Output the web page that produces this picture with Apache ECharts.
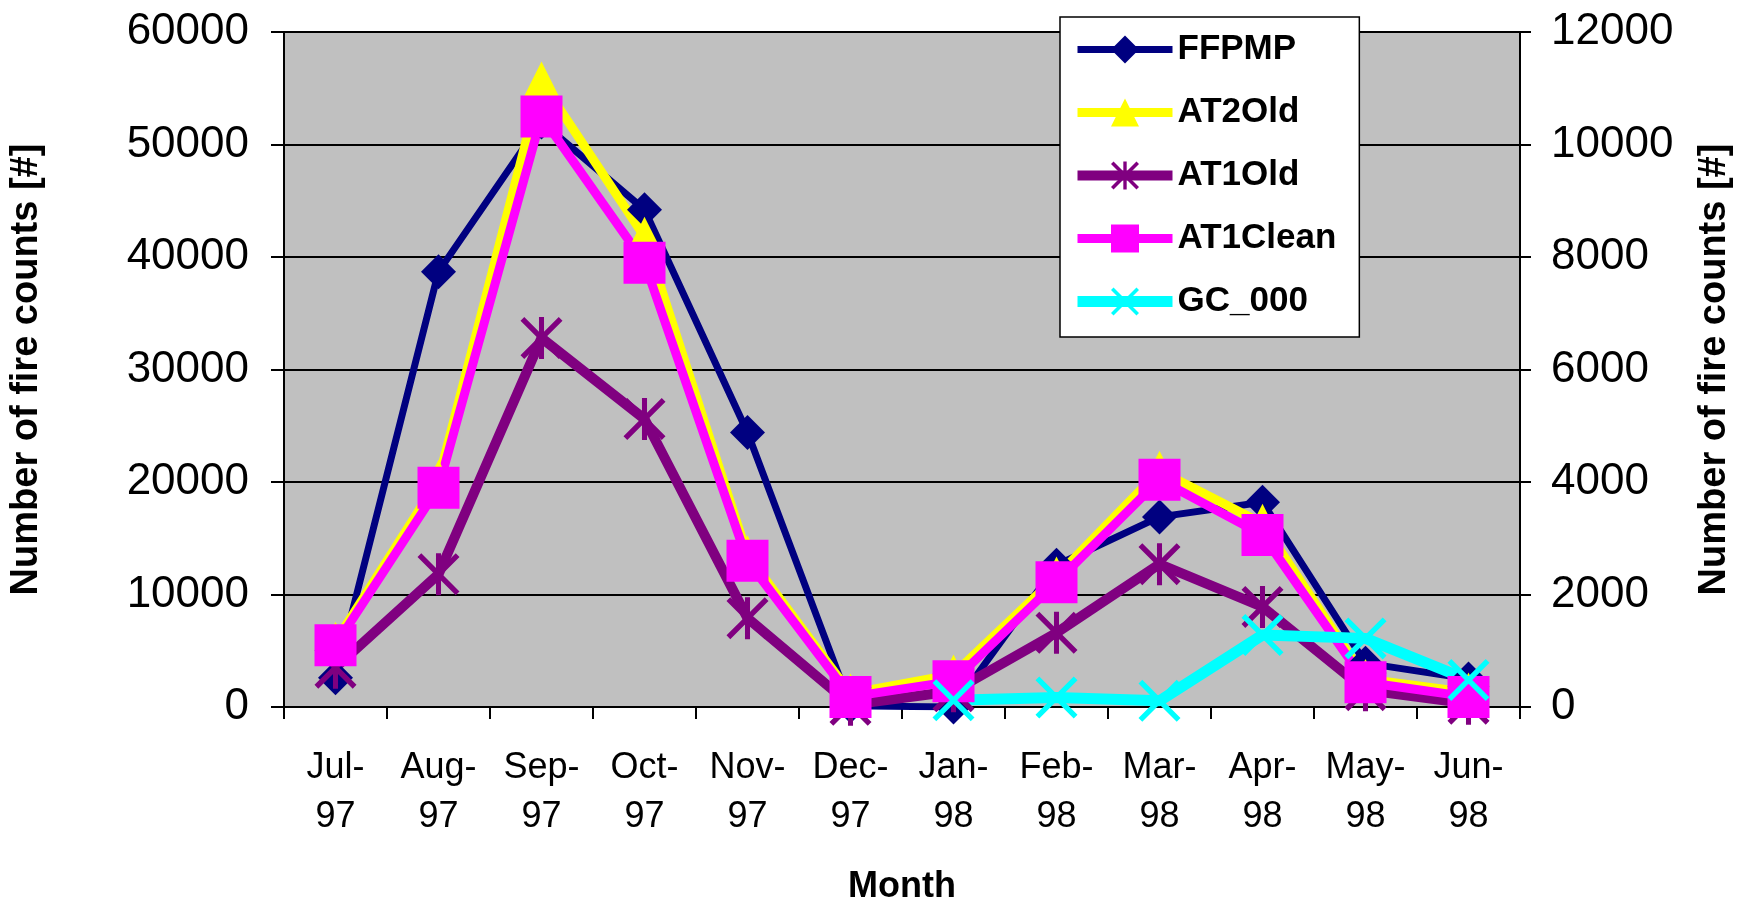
<!DOCTYPE html>
<html>
<head>
<meta charset="utf-8">
<script src="https://cdn.jsdelivr.net/npm/echarts@6/dist/echarts.min.js"></script>
<style>
html,body{margin:0;padding:0;background:#fff;}
#chart{width:1742px;height:898px;}
</style>
</head>
<body>
<div id="chart"></div>
<script>
const categories = ['Jul-97','Aug-97','Sep-97','Oct-97','Nov-97','Dec-97','Jan-98','Feb-98','Mar-98','Apr-98','May-98','Jun-98'];
const ffpmp    = [2600, 38700, 52000, 44200, 24400, 100, 0, 12600, 16900, 18200, 3900, 2500];
const at2old   = [5800, 20200, 55600, 41800, 13500, 1200, 2900, 11600, 21000, 16300, 2500, 1300];
const at1old   = [3500, 11800, 32800, 25600, 7900, 200, 1400, 6600, 12700, 8900, 1500, 300];
const at1clean = [5500, 19500, 52500, 39500, 13000, 900, 2300, 11100, 20200, 15300, 2200, 900];
const gc000    = [null, null, null, null, null, null, 120, 170, 110, 1280, 1220, 480];
const leftTicks = [0, 10000, 20000, 30000, 40000, 50000, 60000];
const rightTicks = [0, 2000, 4000, 6000, 8000, 10000, 12000];

const FONT = 'Arial, "Liberation Sans", sans-serif';
const ASTERISK = 'path://M44 0 L56 0 L56 100 L44 100 Z M0 9 L9 0 L100 91 L91 100 Z M91 0 L100 9 L9 100 L0 91 Z';
const XMARK = 'path://M0 9 L9 0 L100 91 L91 100 Z M91 0 L100 9 L9 100 L0 91 Z';

const chart = echarts.init(document.getElementById('chart'), null, {renderer: 'canvas'});

const series = [
  {name: 'FFPMP', data: ffpmp, color: '#000080', symbol: 'diamond', symbolSize: 35, width: 7, axis: 0},
  {name: 'AT2Old', data: at2old, color: '#ffff00', symbol: 'triangle', symbolSize: 40, width: 9, axis: 0},
  {name: 'AT1Old', data: at1old, color: '#800080', symbol: ASTERISK, symbolSize: 42, width: 10, axis: 0},
  {name: 'AT1Clean', data: at1clean, color: '#ff00ff', symbol: 'rect', symbolSize: 42, width: 9, axis: 0},
  {name: 'GC_000', data: gc000, color: '#00ffff', symbol: XMARK, symbolSize: 42, width: 11, axis: 1}
];

chart.setOption({
  animation: false,
  backgroundColor: '#ffffff',
  textStyle: {fontFamily: FONT},
  grid: {
    left: 284, right: 222, top: 32, bottom: 191,
    containLabel: false,
    outerBoundsMode: 'none',
    show: true, backgroundColor: '#c0c0c0', borderColor: '#808080', borderWidth: 2
  },
  legend: {
    orient: 'vertical',
    left: 1060, top: 17,
    padding: [15, 23, 18, 12],
    itemGap: 28,
    itemWidth: 95,
    itemHeight: 35,
    backgroundColor: '#ffffff',
    borderColor: '#000000',
    borderWidth: 1.5,
    textStyle: {fontFamily: FONT, fontSize: 35, fontWeight: 'bold', color: '#000', lineHeight: 35},
    data: series.map(s => ({name: s.name, lineStyle: {width: s.width, color: s.color}}))
  },
  xAxis: {
    type: 'category',
    data: categories,
    boundaryGap: true,
    name: 'Month',
    nameLocation: 'middle',
    nameGap: 162,
    nameTextStyle: {fontFamily: FONT, fontSize: 36, fontWeight: 'bold', color: '#000'},
    axisLine: {show: true, lineStyle: {color: '#000', width: 2}},
    axisTick: {show: true, interval: 0, length: 12, lineStyle: {color: '#000', width: 2}},
    axisLabel: {
      interval: 0, margin: 37, fontSize: 36, lineHeight: 49, color: '#000', fontFamily: FONT,
      formatter: v => v.replace('-', '-\n')
    },
    splitLine: {show: false}
  },
  yAxis: [
    {
      type: 'value', min: leftTicks[0], max: leftTicks[leftTicks.length - 1], interval: leftTicks[1] - leftTicks[0],
      position: 'left',
      name: 'Number of fire counts [#]',
      nameLocation: 'middle', nameRotate: 90, nameGap: 238,
      nameTextStyle: {fontFamily: FONT, fontSize: 38, fontWeight: 'bold', color: '#000'},
      axisLine: {show: true, lineStyle: {color: '#000', width: 2}},
      axisTick: {show: true, length: 13, lineStyle: {color: '#000', width: 2}},
      axisLabel: {margin: 35, fontSize: 44, color: '#000', fontFamily: FONT, formatter: v => String(v)},
      splitLine: {show: true, lineStyle: {color: '#000', width: 2}}
    },
    {
      type: 'value', min: rightTicks[0], max: rightTicks[rightTicks.length - 1], interval: rightTicks[1] - rightTicks[0],
      position: 'right',
      name: 'Number of fire counts [#]',
      nameLocation: 'middle', nameRotate: 90, nameGap: 176,
      nameTextStyle: {fontFamily: FONT, fontSize: 38, fontWeight: 'bold', color: '#000'},
      axisLine: {show: true, lineStyle: {color: '#000', width: 2}},
      axisTick: {show: true, length: 11, lineStyle: {color: '#000', width: 2}},
      axisLabel: {margin: 31, fontSize: 44, color: '#000', fontFamily: FONT, formatter: v => String(v)},
      splitLine: {show: false}
    }
  ],
  series: series.map(s => ({
    name: s.name,
    type: 'line',
    yAxisIndex: s.axis,
    data: s.data,
    symbol: s.symbol,
    symbolSize: s.symbolSize,
    showAllSymbol: true,
    color: s.color,
    lineStyle: {color: s.color, width: s.width},
    itemStyle: {color: s.color, borderWidth: 0},
    emphasis: {disabled: true}
  }))
});
</script>
</body>
</html>
